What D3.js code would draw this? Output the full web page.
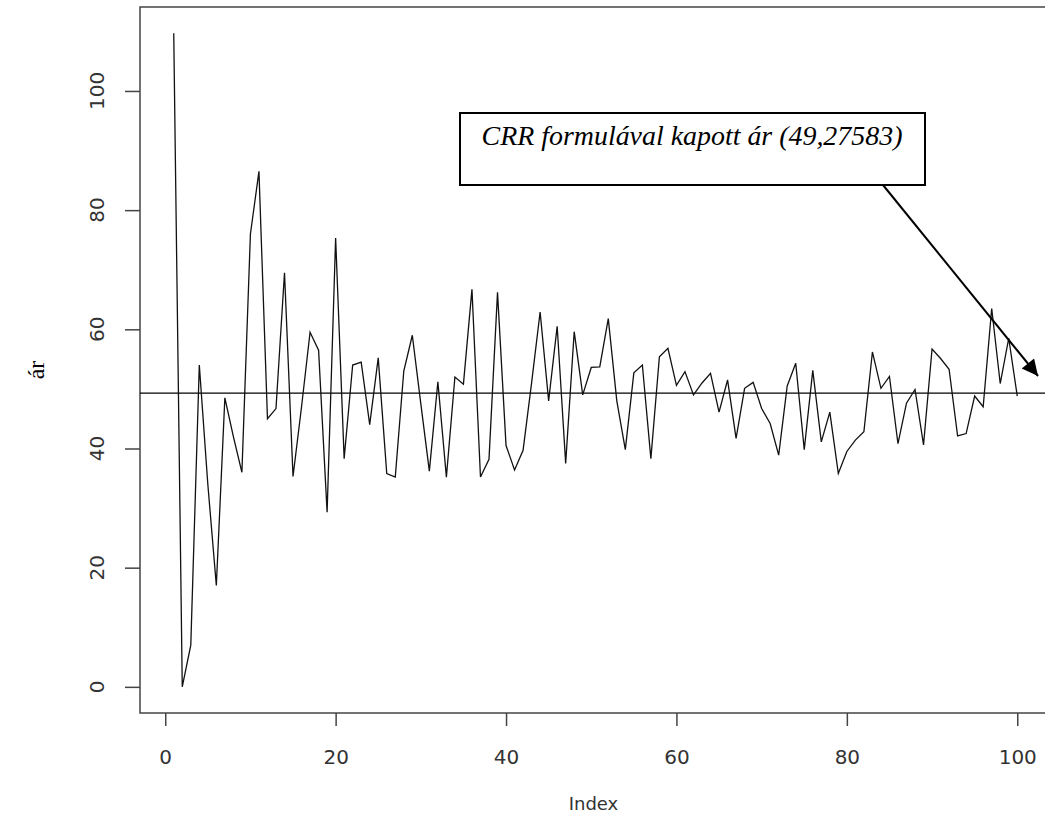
<!DOCTYPE html>
<html>
<head>
<meta charset="utf-8">
<script src="https://cdn.jsdelivr.net/npm/d3@7"></script>
<style>
  html, body { margin: 0; padding: 0; background: #fff; }
  svg { display: block; }
</style>
</head>
<body>
<div id="chart"></div>
<script>
// CRR binomial price by number of steps
var steps = d3.range(1, 101);
var prices = [
  109.7, 0, 7, 54, 34, 17, 48.5, 42, 36, 76,
  86.5, 45, 46.7, 69.5, 35.3, 47, 59.5, 56.5, 29.3, 75.3,
  38.3, 54, 54.5, 44, 55.2, 35.8, 35.2, 53, 59, 47.5,
  36.2, 51.2, 35.2, 52, 50.8, 66.7, 35.2, 38.2, 66.2, 40.5,
  36.4, 39.7, 51, 62.9, 48, 60.5, 37.5, 59.6, 49, 53.6,
  53.7, 61.8, 48, 39.8, 52.7, 54, 38.3, 55.4, 56.8, 50.6,
  52.9, 49, 51, 52.6, 46.1, 51.5, 41.7, 50.1, 51.1, 46.7,
  44.2, 38.9, 50.5, 54.3, 39.8, 53.1, 41.1, 46.1, 35.8, 39.5,
  41.4, 42.8, 56.2, 50.1, 52.1, 40.8, 47.6, 49.9, 40.6, 56.7,
  55.1, 53.3, 42.1, 42.5, 48.8, 47, 63.5, 50.9, 58.5, 48.8
];
var crrPrice = 49.27583;
var xTicks = [0, 20, 40, 60, 80, 100];
var yTicks = [0, 20, 40, 60, 80, 100];
var noteText = "CRR formulával kapott ár (49,27583)";

var width = 1045, height = 827;
var box = {left: 140, top: 7, right: 1051, bottom: 713};

// R style axis range: data range plus 4% on each side
function padded(ext) {
    var r = ext[1] - ext[0];
    return [ext[0] - 0.04 * r, ext[1] + 0.04 * r];
}

var x = d3.scaleLinear().domain(padded(d3.extent(steps))).range([box.left, box.right]);
var y = d3.scaleLinear().domain(padded(d3.extent(prices))).range([box.bottom, box.top]);

var svg = d3.select("#chart").append("svg")
    .attr("width", width)
    .attr("height", height);

svg.append("defs").append("marker")
    .attr("id", "head")
    .attr("viewBox", "0 0 10 10")
    .attr("refX", 10).attr("refY", 5)
    .attr("markerWidth", 9).attr("markerHeight", 8)
    .attr("markerUnits", "strokeWidth")
    .attr("orient", "auto")
    .append("path").attr("d", "M0,0 L10,5 L0,10 Z").attr("fill", "#000");

// x axis
var xAxis = svg.append("g")
    .attr("transform", "translate(0," + box.bottom + ")")
    .call(d3.axisBottom(x).tickValues(xTicks).tickSize(13).tickPadding(24));
xAxis.select(".domain").remove();
xAxis.selectAll("line").attr("stroke", "#444").attr("stroke-width", 1.5);
xAxis.selectAll("text")
    .attr("font-family", "DejaVu Sans").attr("font-size", 20).attr("fill", "#333");

// y axis, labels turned like R does
var yAxis = svg.append("g")
    .attr("transform", "translate(" + box.left + ",0)")
    .call(d3.axisLeft(y).tickValues(yTicks).tickSize(15).tickFormat(""));
yAxis.select(".domain").remove();
yAxis.selectAll("line").attr("stroke", "#444").attr("stroke-width", 1.5);
svg.append("g").selectAll("text")
    .data(yTicks).enter().append("text")
    .attr("transform", function(d) { return "translate(104," + y(d) + ") rotate(-90)"; })
    .attr("text-anchor", "middle")
    .attr("font-family", "DejaVu Sans").attr("font-size", 20).attr("fill", "#333")
    .text(function(d) { return d; });

// plot box
svg.append("rect")
    .attr("x", box.left).attr("y", box.top)
    .attr("width", box.right - box.left).attr("height", box.bottom - box.top)
    .attr("fill", "none").attr("stroke", "#444").attr("stroke-width", 1.5);

// reference price
svg.append("line")
    .attr("x1", box.left).attr("x2", box.right)
    .attr("y1", y(crrPrice)).attr("y2", y(crrPrice))
    .attr("stroke", "#000").attr("stroke-width", 1.2);

// price series
var line = d3.line()
    .x(function(d, i) { return x(steps[i]); })
    .y(function(d) { return y(d); });
svg.append("path")
    .datum(prices)
    .attr("d", line)
    .attr("fill", "none")
    .attr("stroke", "#111")
    .attr("stroke-width", 1.3);

// axis titles
svg.append("text")
    .attr("x", (box.left + 1045) / 2 + 1).attr("y", 810)
    .attr("text-anchor", "middle")
    .attr("font-family", "DejaVu Sans").attr("font-size", 18).attr("fill", "#333")
    .text("Index");
svg.append("text")
    .attr("transform", "translate(44,370) rotate(-90)")
    .attr("text-anchor", "middle")
    .attr("font-family", "Liberation Serif").attr("font-size", 24).attr("fill", "#000")
    .text("ár");

// annotation box + arrow
svg.append("rect")
    .attr("x", 460).attr("y", 113).attr("width", 465).attr("height", 72)
    .attr("fill", "#fff").attr("stroke", "#000").attr("stroke-width", 2);
var note = svg.append("text")
    .attr("x", 692).attr("y", 145)
    .attr("text-anchor", "middle")
    .attr("font-family", "Liberation Serif").attr("font-style", "italic")
    .attr("font-size", 100).attr("fill", "#000")
    .text(noteText);
// fit the note to the width it has in the picture
var w100 = note.node().getComputedTextLength();
note.attr("font-size", 100 * 421 / w100);

svg.append("line")
    .attr("x1", 883).attr("y1", 185)
    .attr("x2", 1038).attr("y2", 376)
    .attr("stroke", "#000").attr("stroke-width", 2)
    .attr("marker-end", "url(#head)");
</script>
</body>
</html>
